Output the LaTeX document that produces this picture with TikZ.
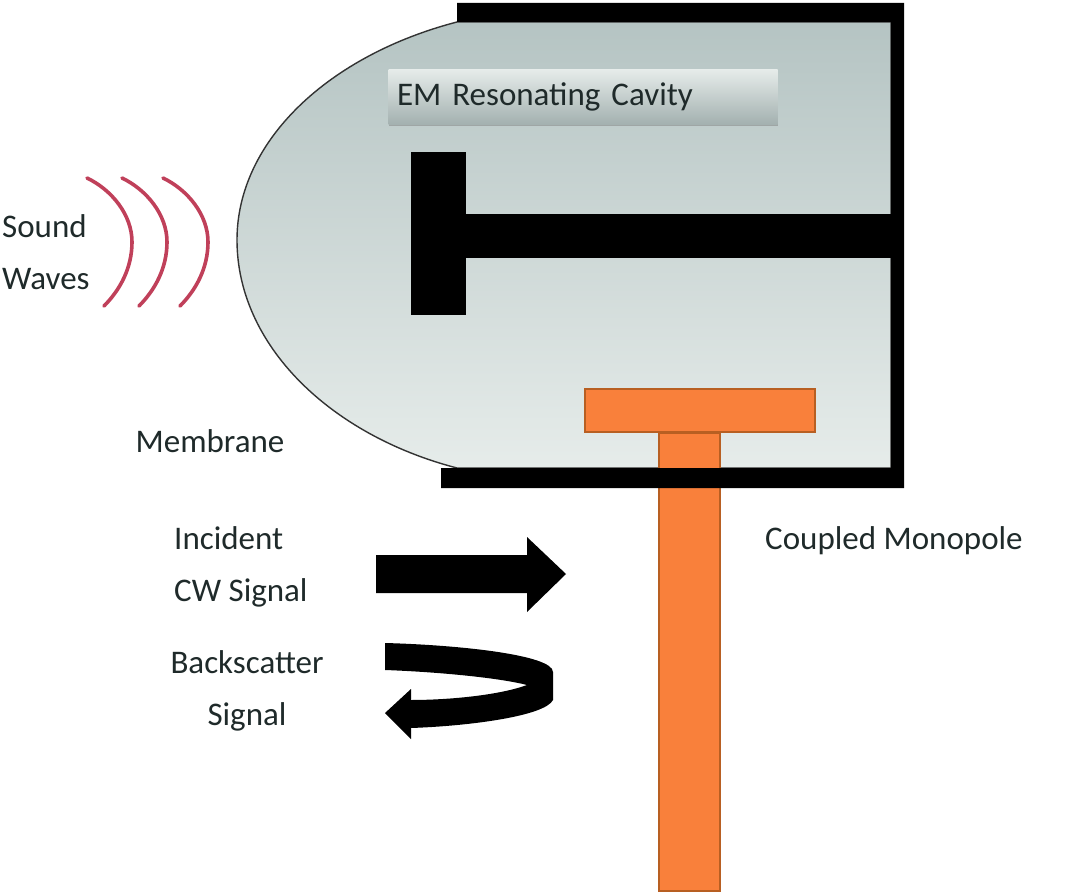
\documentclass[tikz,border=0pt]{standalone}
\usepackage{fontspec}
\setmainfont{Carlito}
\usetikzlibrary{shadows}
\definecolor{cavtop}{HTML}{B5C4C3}
\definecolor{cavbot}{HTML}{E6ECEA}
\definecolor{txtcol}{HTML}{1F2A2A}
\definecolor{wavecol}{HTML}{C0405A}
\definecolor{monofill}{HTML}{F9803B}
\definecolor{monoline}{HTML}{B85F22}
\begin{document}
\begin{tikzpicture}[
  x=1pt, y=-1pt,
  font=\fontsize{33}{52}\selectfont,
  lbl/.style={text=txtcol, inner sep=0, align=left},
  cav/.style={draw=black!80, line width=1.4pt, top color=cavtop, bottom color=cavbot},
  capbox/.style={top color=cavbot, bottom color=cavtop!90!black, text=txtcol, minimum width=389pt,
                 minimum height=55pt, inner sep=0, text width=372pt, align=left,
                 drop shadow={shadow xshift=0pt, shadow yshift=-2pt, opacity=0.5}},
  wave/.style={draw=wavecol, line width=3.6pt, line cap=round},
  mono/.style={draw=monoline, line width=2pt, fill=monofill},
  solid/.style={fill=black},
]
\useasboundingbox (0,0) rectangle (1071,896);

\draw[cav] (457,22) .. controls (330,55) and (237,140) .. (237,240)
  .. controls (237,345) and (330,435) .. (457,468) -- (891,468) -- (891,22) -- cycle;

\fill[solid] (411,152) rectangle (466,315);
\fill[solid] (466,214) rectangle (891,258);

\draw[mono] (659,433) rectangle (720,891);
\draw[mono] (585,389) rectangle (815,432);

\fill[solid] (457,3) -- (904,3) -- (904,488) -- (441,488) -- (441,468) -- (891,468)
  -- (891,22) -- (457,22) -- cycle;

\node[capbox] (cavity) at (583,97) {EM Resonating Cavity};

\foreach \dx in {0,35,76}
  \draw[wave, xshift=\dx] (87,178) .. controls (112,190) and (132,215) .. (132,242)
    .. controls (132,268) and (120,290) .. (104,306);

\node[lbl, anchor=west] (sound) at (2,252) {Sound\\Waves};
\node[lbl, anchor=center] (membrane) at (210,441) {Membrane};
\node[lbl, anchor=west] (incident) at (174,567) {Incident\\CW Signal};
\node[lbl, anchor=center, align=center] (backscatter) at (247,691) {Backscatter\\Signal};
\node[lbl, anchor=west] (monopole) at (765,541) {Coupled Monopole};

\fill[solid] (376,555) -- (527,555) -- (527,537) -- (566,574) -- (527,612) -- (527,593)
  -- (376,593) -- cycle;

\fill[solid] (385,643) .. controls (460,645) and (553,655) .. (553,672) -- (553,700)
  .. controls (545,716) and (470,726) .. (411,728) -- (411,739) -- (385,713) -- (411,689)
  -- (411,700) .. controls (450,700) and (500,695) .. (527,685)
  .. controls (500,678) and (440,672) .. (385,670) -- cycle;
\end{tikzpicture}
\end{document}
